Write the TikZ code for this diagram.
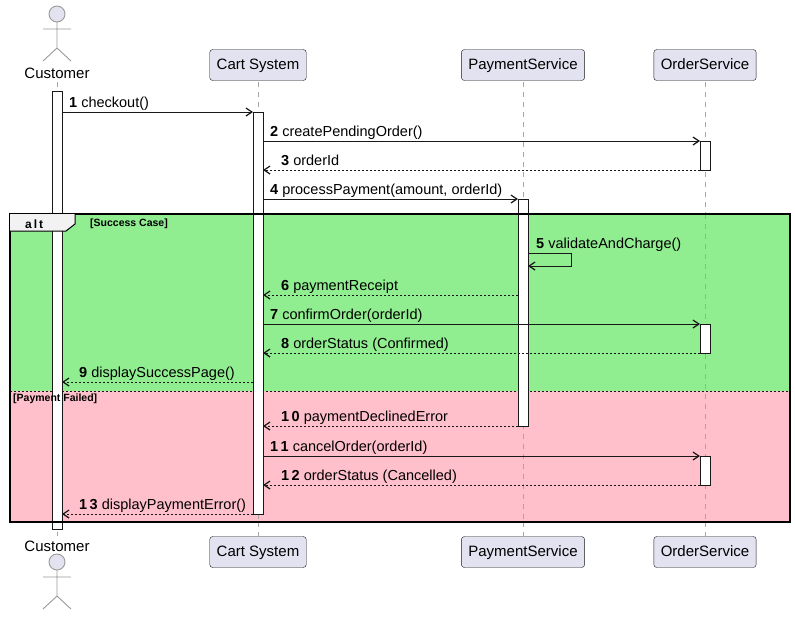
\documentclass[tikz,border=0pt]{standalone}
\usepackage{fontspec}
\setmainfont{Liberation Sans}
\usetikzlibrary{arrows.meta}
\definecolor{pbox}{HTML}{E2E2F0}
\definecolor{pline}{HTML}{181818}
\definecolor{okg}{HTML}{90EE90}
\definecolor{badp}{HTML}{FFC0CB}
\begin{document}
\begin{tikzpicture}[x=1pt,y=-1pt,
  part/.style={draw=pline,fill=pbox,rounded corners=3pt,minimum height=31pt,inner xsep=7pt,text height=11pt,text depth=3pt,font=\fontsize{15}{17}\selectfont},
  life/.style={draw=gray!70,dash pattern=on 5pt off 5pt,line width=0.6pt},
  act/.style={draw=pline,fill=white,line width=0.7pt},
  msg/.style={draw=pline,line width=0.7pt,-{Straight Barb[length=6pt,width=8pt,line width=1.2pt]}},
  ret/.style={msg,dash pattern=on 2pt off 2pt},
  lab/.style={font=\fontsize{14.5}{16}\selectfont,anchor=base west,inner sep=0pt},
  actor/.style={draw=gray!80,line width=0.9pt}]
\useasboundingbox (0,0) rectangle (795,619);
% lifelines
\foreach \x in {57,258,523,705}{\draw[life] (\x,82) -- (\x,536);}
% frame background
\fill[okg] (10,214) rectangle (790,391);
\fill[badp] (10,391) rectangle (790,522);
\draw[pline,dash pattern=on 2pt off 2pt] (10,391) -- (790,391);
\foreach \x in {57,258,523,705}{\draw[life] (\x,214) -- (\x,522);}
% actors
\foreach \y in {0,548}{
  \begin{scope}[shift={(0,\y)}]
  \draw[actor,fill=pbox] (57,14) circle (8);
  \draw[actor] (57,22) -- (57,48) (43,29) -- (71,29) (43,61) -- (57,48) -- (71,61);
  \end{scope}}
\node[font=\fontsize{15}{17}\selectfont] (custT) at (57,73) {Customer};
\node[font=\fontsize{15}{17}\selectfont] (custB) at (57,546) {Customer};
% participants
\node[part] (cartT) at (258,65) {Cart System};
\node[part] (payT) at (523,65) {PaymentService};
\node[part] (ordT) at (705,65) {OrderService};
\node[part] (cartB) at (258,552) {Cart System};
\node[part] (payB) at (523,552) {PaymentService};
\node[part] (ordB) at (705,552) {OrderService};
% activations
\draw[act] (52,91) rectangle (62,529);
\draw[act] (253,112) rectangle (263,514);
\draw[act] (518,199) rectangle (528,426);
\draw[act] (700,141) rectangle (710,170);
\draw[act] (700,324) rectangle (710,353);
\draw[act] (700,456) rectangle (710,485);
% frame
\draw[black,line width=1.3pt] (10,214) rectangle (790,522);
\fill[black!5] (10,214) -- (75,214) -- (75,224) -- (66,231) -- (10,231) -- cycle;
\draw[black,line width=1pt] (10,231) -- (66,231) -- (75,224) -- (75,214);
\node[font=\bfseries\fontsize{12}{14}\selectfont,anchor=base west,inner sep=0pt] (alt) at (25,228) {a\,l\,t};
\node[font=\bfseries\fontsize{10.5}{12}\selectfont,anchor=base west,inner sep=0pt] (g1) at (90,226.5) {[Success Case]};
\node[font=\bfseries\fontsize{10.5}{12}\selectfont,anchor=base west,inner sep=0pt] (g2) at (13,401) {[Payment Failed]};
% messages
\coordinate (a1) at (62,112); \coordinate (b1) at (253,112);
\draw[msg] (a1) -- (b1); \node[lab] (l1) at (69,107) {\textbf{1} checkout()};
\coordinate (a2) at (263,141); \coordinate (b2) at (700,141);
\draw[msg] (a2) -- (b2); \node[lab] (l2) at (270,136) {\textbf{2} createPendingOrder()};
\coordinate (a3) at (700,170); \coordinate (b3) at (263,170);
\draw[ret] (a3) -- (b3); \node[lab] (l3) at (281,165) {\textbf{3} orderId};
\coordinate (a4) at (263,199); \coordinate (b4) at (518,199);
\draw[msg] (a4) -- (b4); \node[lab] (l4) at (270,194) {\textbf{4} processPayment(amount, orderId)};
\coordinate (a5) at (528,253); \coordinate (b5) at (528,266);
\draw[msg] (a5) -- (571,253) -- (571,266) -- (b5); \node[lab] (l5) at (536,248) {\textbf{5} validateAndCharge()};
\coordinate (a6) at (518,295); \coordinate (b6) at (263,295);
\draw[ret] (a6) -- (b6); \node[lab] (l6) at (281,290) {\textbf{6} paymentReceipt};
\coordinate (a7) at (263,324); \coordinate (b7) at (700,324);
\draw[msg] (a7) -- (b7); \node[lab] (l7) at (270,319) {\textbf{7} confirmOrder(orderId)};
\coordinate (a8) at (700,353); \coordinate (b8) at (263,353);
\draw[ret] (a8) -- (b8); \node[lab] (l8) at (281,348) {\textbf{8} orderStatus (Confirmed)};
\coordinate (a9) at (253,382); \coordinate (b9) at (62,382);
\draw[ret] (a9) -- (b9); \node[lab] (l9) at (79,377) {\textbf{9} displaySuccessPage()};
\coordinate (a10) at (518,426); \coordinate (b10) at (263,426);
\draw[ret] (a10) -- (b10); \node[lab] (l10) at (281,421) {\textbf{1\,0} paymentDeclinedError};
\coordinate (a11) at (263,456); \coordinate (b11) at (700,456);
\draw[msg] (a11) -- (b11); \node[lab] (l11) at (270,451) {\textbf{1\,1} cancelOrder(orderId)};
\coordinate (a12) at (700,485); \coordinate (b12) at (263,485);
\draw[ret] (a12) -- (b12); \node[lab] (l12) at (281,480) {\textbf{1\,2} orderStatus (Cancelled)};
\coordinate (a13) at (253,514); \coordinate (b13) at (62,514);
\draw[ret] (a13) -- (b13); \node[lab] (l13) at (79,509) {\textbf{1\,3} displayPaymentError()};
\end{tikzpicture}
\end{document}
